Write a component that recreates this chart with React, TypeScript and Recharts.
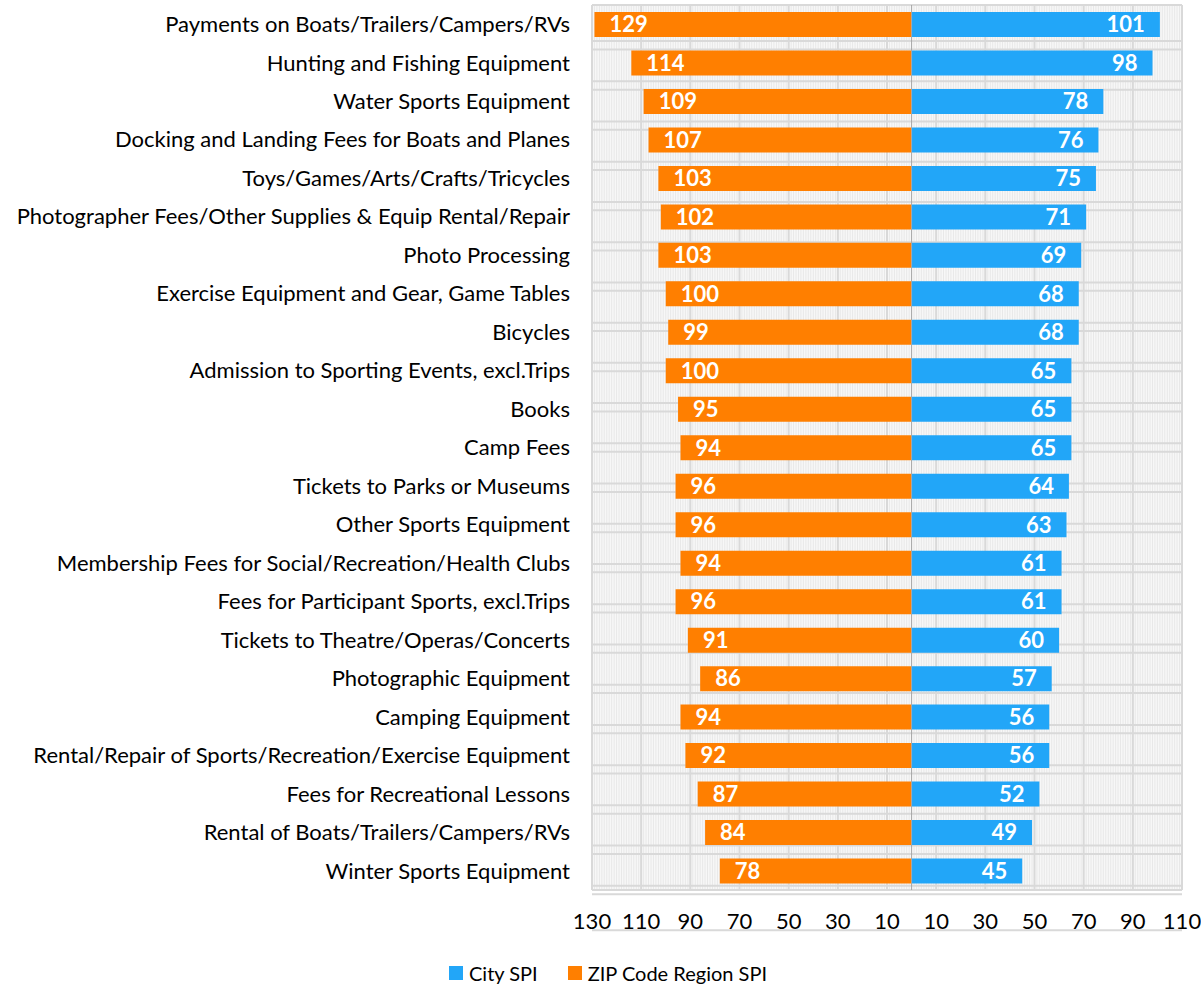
import React from "react";
import {
  BarChart,
  Bar,
  XAxis,
  YAxis,
  CartesianGrid,
  Legend,
  LabelList,
  ReferenceLine,
} from "recharts";

const categories = [
  "Payments on Boats/Trailers/Campers/RVs",
  "Hunting and Fishing Equipment",
  "Water Sports Equipment",
  "Docking and Landing Fees for Boats and Planes",
  "Toys/Games/Arts/Crafts/Tricycles",
  "Photographer Fees/Other Supplies & Equip Rental/Repair",
  "Photo Processing",
  "Exercise Equipment and Gear, Game Tables ",
  "Bicycles",
  "Admission to Sporting Events, excl.Trips",
  "Books",
  "Camp Fees",
  "Tickets to Parks or Museums",
  "Other Sports Equipment",
  "Membership Fees for Social/Recreation/Health Clubs",
  "Fees for Participant Sports, excl.Trips",
  "Tickets to Theatre/Operas/Concerts",
  "Photographic Equipment",
  "Camping Equipment",
  "Rental/Repair of Sports/Recreation/Exercise Equipment",
  "Fees for Recreational Lessons",
  "Rental of Boats/Trailers/Campers/RVs",
  "Winter Sports Equipment",
];

const citySpi = [101, 98, 78, 76, 75, 71, 69, 68, 68, 65, 65, 65, 64, 63, 61, 61, 60, 57, 56, 56, 52, 49, 45];
const zipSpi = [129, 114, 109, 107, 103, 102, 103, 100, 99, 100, 95, 94, 96, 96, 94, 96, 91, 86, 94, 92, 87, 84, 78];

const xTicks = [-130, -110, -90, -70, -50, -30, -10, 10, 30, 50, 70, 90, 110];
const xDomain: [number, number] = [-130, 110];

const CITY_COLOR = "#22A6F8";
const ZIP_COLOR = "#FF7F00";
const FONT = "Lato, 'Noto Sans', sans-serif";

const data = categories.map((c, i) => ({
  category: c,
  city: citySpi[i],
  zip: -zipSpi[i],
}));

// grid helper positions (gridlines only, not marks)
const minorTicks: number[] = [];
for (let v = xDomain[0]; v <= xDomain[1]; v += 1) minorTicks.push(v);
const rowTicks: number[] = [0, categories.length];
for (let k = 1; k < categories.length; k++) {
  rowTicks.push(k - 0.104, k + 0.104);
}

const LegendContent = () => (
  <div
    style={{
      display: "flex",
      justifyContent: "center",
      alignItems: "center",
      height: 26,
      fontFamily: FONT,
      fontSize: 20,
      color: "#000",
      paddingLeft: 34,
    }}
  >
    {[
      { name: "City SPI", color: CITY_COLOR },
      { name: "ZIP Code Region SPI", color: ZIP_COLOR },
    ].map((it, i) => (
      <div key={it.name} style={{ display: "flex", alignItems: "center", marginLeft: i ? 30 : 0 }}>
        <span style={{ width: 14, height: 14, background: it.color, display: "inline-block", marginRight: 6 }} />
        <span>{it.name}</span>
      </div>
    ))}
  </div>
);

export default function App() {
  return (
    <div style={{ position: "absolute", left: 0, top: 0, width: 1201, height: 986, background: "#fff" }}>
      <BarChart
        width={1201}
        height={986}
        data={data}
        layout="vertical"
        stackOffset="sign"
        barSize={25}
        margin={{ top: 5, right: 19, left: 0, bottom: 0 }}
        style={{ fontFamily: FONT }}
      >
        <XAxis xAxisId="minor" type="number" domain={xDomain} ticks={minorTicks} interval={0} hide allowDataOverflow />
        <YAxis yAxisId="grid" type="number" domain={[0, categories.length]} ticks={rowTicks} interval={0} hide allowDataOverflow />
        <CartesianGrid
          xAxisId="minor"
          yAxisId="grid"
          horizontal={false}
          vertical
          fill="#f7f7f7"
          stroke="#e8e8e8"
          strokeWidth={1}
        />
        <CartesianGrid
          yAxisId="grid"
          horizontal
          vertical={false}
          stroke="#d9d9d9"
          strokeWidth={2}
        />
        <CartesianGrid horizontal={false} vertical stroke="#d9d9d9" strokeWidth={2} />
        <XAxis
          type="number"
          domain={xDomain}
          ticks={xTicks}
          tickFormatter={(v: number) => String(Math.abs(v))}
          axisLine={false}
          tickLine={false}
          tickSize={0}
          tickMargin={23}
          height={70}
          interval={0}
          tick={{ fill: "#000", fontSize: 22, fontFamily: FONT }}
        />
        <YAxis
          type="category"
          dataKey="category"
          width={592}
          axisLine={false}
          tickLine={false}
          tickSize={0}
          tickMargin={22}
          interval={0}
          tick={{ fill: "#000", fontSize: 22, fontFamily: FONT }}
        />
        <Legend verticalAlign="bottom" content={<LegendContent />} />
        <Bar dataKey="city" name="City SPI" stackId="s" fill={CITY_COLOR} isAnimationActive={false}>
          <LabelList
            dataKey="city"
            position="insideRight"
            offset={15}
            fill="#fff"
            fontSize={22}
            fontWeight="bold"
            fontFamily={FONT}
          />
        </Bar>
        <Bar dataKey="zip" name="ZIP Code Region SPI" stackId="s" fill={ZIP_COLOR} isAnimationActive={false}>
          <LabelList
            dataKey="zip"
            position="insideRight"
            offset={15}
            formatter={(v: number) => String(Math.abs(v))}
            fill="#fff"
            fontSize={22}
            fontWeight="bold"
            fontFamily={FONT}
          />
        </Bar>
        <ReferenceLine x={0} stroke="#a6a6a6" strokeWidth={1} />
      </BarChart>
    </div>
  );
}
